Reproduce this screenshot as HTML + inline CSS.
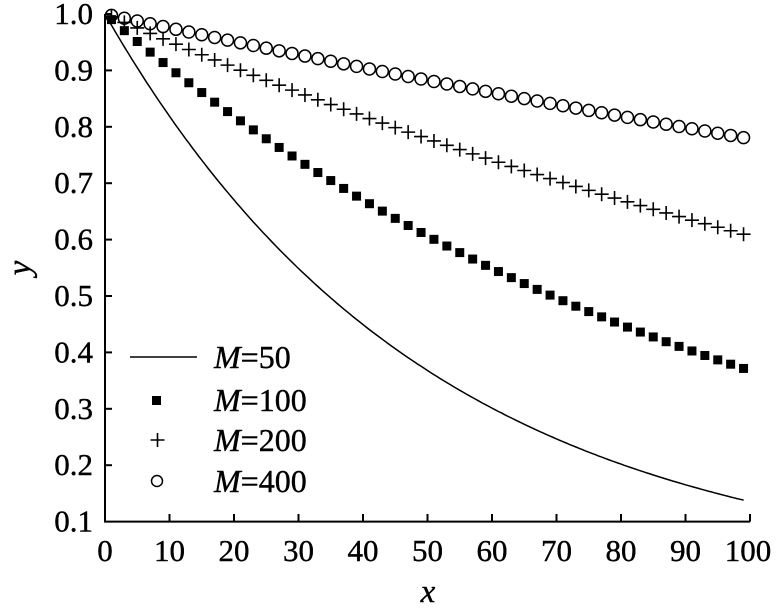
<!DOCTYPE html><html><head><style>body{margin:0;background:#fff}svg{display:block}text{font-family:"Liberation Serif",serif;fill:#000;stroke:#000;stroke-width:0.4}</style></head><body>
<svg id="s" width="779" height="609" xmlns="http://www.w3.org/2000/svg">
<g font-size="31" text-anchor="end" id="yl"></g>
<g font-size="31" text-anchor="middle" id="xl"></g>
<path d="M105,14V521.6H750" fill="none" stroke="#000" stroke-width="2"/>
<g id="tk" stroke="#000" stroke-width="2"></g>
<g id="data"></g>
<text x="428" y="602" font-size="33" font-style="italic" text-anchor="middle">x</text>
<text x="30" y="268" font-size="33" font-style="italic" text-anchor="middle" transform="rotate(-90 30 268)">y</text>
<line x1="130" y1="357" x2="197" y2="357" stroke="#000" stroke-width="1.5"/>
<rect x="152" y="396" width="9" height="9"/>
<path d="M150.5,440h14M157.5,433v14" stroke="#000" stroke-width="1.6"/>
<circle cx="157" cy="481" r="5.5" fill="none" stroke="#000" stroke-width="1.5"/>
<g font-size="32"><text x="214" y="368"><tspan font-style="italic">M</tspan>=50</text>
<text x="214" y="411"><tspan font-style="italic">M</tspan>=100</text>
<text x="214" y="451"><tspan font-style="italic">M</tspan>=200</text>
<text x="214" y="492"><tspan font-style="italic">M</tspan>=400</text></g>
</svg>
<script>
var NS="http://www.w3.org/2000/svg";function X(x){return 105+6.45*x}function Y(y){return 521.6-(y-0.1)*564}
function el(p,t,a,txt){var e=document.createElementNS(NS,t);for(var k in a)e.setAttribute(k,a[k]);if(txt)e.textContent=txt;document.getElementById(p).appendChild(e)}
for(var i=1;i<=10;i++){var v=(i/10).toFixed(1);el("yl","text",{x:93,y:Y(i/10)+10},v);if(i>1)el("tk","line",{x1:105,x2:112,y1:Y(i/10),y2:Y(i/10)});}
for(var i=0;i<=10;i++){el("xl","text",{x:X(i*10)+(i==10?-2:0),y:561},String(i*10));if(i>0)el("tk","line",{x1:X(i*10),x2:X(i*10),y1:521.6,y2:514});}
var d="";for(var x=0;x<=99;x+=0.5)d+=(x?"L":"M")+X(x).toFixed(1)+","+Y(Math.exp(-x/50)).toFixed(1);
el("data","path",{d:d,fill:"none",stroke:"#000","stroke-width":1.5});
for(var x=1;x<=99;x+=2){var a=X(x);
el("data","rect",{x:a-4.5,y:Y(Math.exp(-x/100))-4.5,width:9,height:9});
var b=Y(Math.exp(-x/200));el("data","path",{d:"M"+(a-7)+","+b+"h14M"+a+","+(b-7)+"v14",stroke:"#000","stroke-width":1.6});
el("data","circle",{cx:a,cy:Y(Math.exp(-x/400)),r:6,fill:"none",stroke:"#000","stroke-width":1.5});}
</script></body></html>
